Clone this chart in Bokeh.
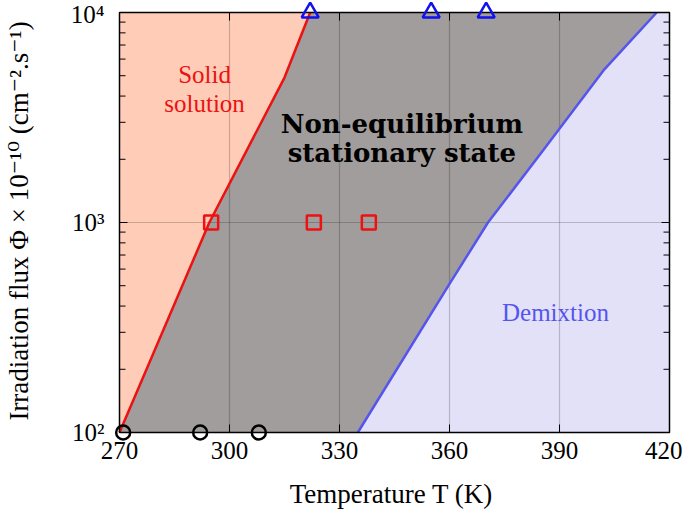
import math
from bokeh.plotting import figure
from bokeh.models import FixedTicker, Label, Range1d
from bokeh.embed import file_html
from bokeh.resources import INLINE

# Phase boundaries (temperature K, flux)
red_T = [270, 294.5, 315, 322]
red_phi = [100, 1000, 4900, 10000]
blue_T = [335, 360, 370.5, 385.5, 402, 416.5]
blue_phi = [100, 510, 1000, 2200, 5300, 10000]

# Experimental points
circ_T = [271, 292, 308]
circ_phi = [100, 100, 100]
sq_T = [295, 323, 338]
sq_phi = [1000, 1000, 1000]
tri_T = [322, 355, 370]
tri_phi = [10000, 10000, 10000]

x_ticks = [270, 300, 330, 360, 390, 420]
y_ticks = [100, 1000, 10000]
y_minor = [k * 10 ** e for e in (2, 3) for k in range(2, 10)]
y_tick_labels = {100: "10²", 1000: "10³", 10000: "10⁴"}

XMIN, XMAX, YMIN, YMAX = 270, 420, 100, 10000
FONT = "Liberation Serif"
TITLE_FONT = "Liberation Serif, DejaVu Serif"
FS = "25px"
FS_TITLE = "27px"

# layout (pixels): the axis box is padded inside the frame so that markers on its edges stay whole
BOX_W, BOX_H = 550, 420
PL, PR, PT, PB = 10, 4, 12, 9
ppk = BOX_W / (XMAX - XMIN)
ppd = BOX_H / 2.0

p = figure(x_range=Range1d(XMIN - PL / ppk, XMAX + PR / ppk),
           y_range=Range1d(YMIN / 10 ** (PB / ppd), YMAX * 10 ** (PT / ppd)),
           y_axis_type="log",
           frame_width=BOX_W + PL + PR, frame_height=BOX_H + PT + PB,
           min_border_left=108, min_border_top=0, min_border_right=9, min_border_bottom=72,
           output_backend="svg", toolbar_location=None)
p.background_fill_color = "white"
p.border_fill_color = "white"
p.outline_line_color = None
p.grid.visible = False

# regions
p.patch(red_T + [XMIN], red_phi + [YMAX], fill_color="#FFCCB7", line_color=None)
p.patch(red_T + blue_T[::-1], red_phi + blue_phi[::-1], fill_color="#A09D9C", line_color=None)
p.patch(blue_T + [XMAX, XMAX], blue_phi + [YMAX, YMIN], fill_color="#E2E1F8", line_color=None)

# grid lines at major ticks
gx = x_ticks[1:-1]
p.segment(x0=gx, y0=[YMIN] * len(gx), x1=gx, y1=[YMAX] * len(gx),
          line_color="black", line_alpha=0.2, line_width=1.2)
gy = y_ticks[1:-1]
p.segment(x0=[XMIN] * len(gy), y0=gy, x1=[XMAX] * len(gy), y1=gy,
          line_color="black", line_alpha=0.2, line_width=1.2)

# inward tick marks on all four sides
TK = dict(length_units="screen", line_color="black", line_width=1)
p.ray(x=[XMIN] * len(y_ticks), y=y_ticks, length=8, angle=0, **TK)
p.ray(x=[XMIN] * len(y_minor), y=y_minor, length=6, angle=0, **TK)
p.ray(x=[XMAX] * len(y_ticks), y=y_ticks, length=8, angle=math.pi, **TK)
p.ray(x=[XMAX] * len(y_minor), y=y_minor, length=6, angle=math.pi, **TK)
p.ray(x=x_ticks, y=[YMIN] * len(x_ticks), length=8, angle=math.pi / 2, **TK)
p.ray(x=x_ticks, y=[YMAX] * len(x_ticks), length=8, angle=-math.pi / 2, **TK)

p.line(red_T, red_phi, line_color="#EE1111", line_width=2.5)
p.line(blue_T, blue_phi, line_color="#5555EE", line_width=2.5)

# axis box
p.quad(left=[XMIN], right=[XMAX], bottom=[YMIN], top=[YMAX],
       fill_color=None, line_color="black", line_width=1.5)

p.scatter(circ_T, circ_phi, marker="circle", size=14, fill_color=None, line_color="black", line_width=2.5)
p.scatter(sq_T, sq_phi, marker="square", size=14, fill_color=None, line_color="#EE1111", line_width=2.5)
p.scatter(tri_T, tri_phi, marker="triangle", size=17, fill_color=None, line_color="#1111EE", line_width=2.5)

# axes (labels only; the box and ticks are drawn above)
xa = p.xaxis[0]
xa.ticker = FixedTicker(ticks=x_ticks)
xa.axis_label = "Temperature T (K)"
ya = p.yaxis[0]
ya.ticker = FixedTicker(ticks=y_ticks)
ya.major_label_overrides = y_tick_labels
ya.axis_label = "Irradiation flux Φ × 10⁻¹⁰ (cm⁻².s⁻¹)"

for ax in (xa, ya):
    ax.axis_line_color = None
    ax.major_tick_in = 0
    ax.major_tick_out = 0
    ax.minor_tick_in = 0
    ax.minor_tick_out = 0
    ax.major_tick_line_color = None
    ax.minor_tick_line_color = None
    ax.major_label_text_font = FONT
    ax.major_label_text_font_size = FS
    ax.major_label_text_color = "black"
    ax.axis_label_text_font = TITLE_FONT
    ax.axis_label_text_font_size = FS_TITLE
    ax.axis_label_text_font_style = "normal"
    ax.axis_label_text_color = "black"
xa.major_label_standoff = 0
xa.axis_label_standoff = 17
ya.major_label_standoff = 5
ya.axis_label_standoff = 34

# region labels
for txt, x, y in [("Solid", 293.2, 5070), ("solution", 293.2, 3690)]:
    p.add_layout(Label(x=x, y=y, text=txt, text_align="center", text_baseline="alphabetic",
                       text_font=FONT, text_font_size=FS, text_color="#EE1111"))
for txt, x, y in [("Non-equilibrium", 347.0, 2930), ("stationary state", 347.0, 2150)]:
    p.add_layout(Label(x=x, y=y, text=txt, text_align="center", text_baseline="alphabetic",
                       text_font="DejaVu Serif", text_font_size="26px", text_font_style="bold",
                       text_color="black"))
p.add_layout(Label(x=388.9, y=373, text="Demixtion", text_align="center", text_baseline="alphabetic",
                   text_font=FONT, text_font_size=FS, text_color="#5555EE"))

open("out.html", "w").write(file_html(p, INLINE))
